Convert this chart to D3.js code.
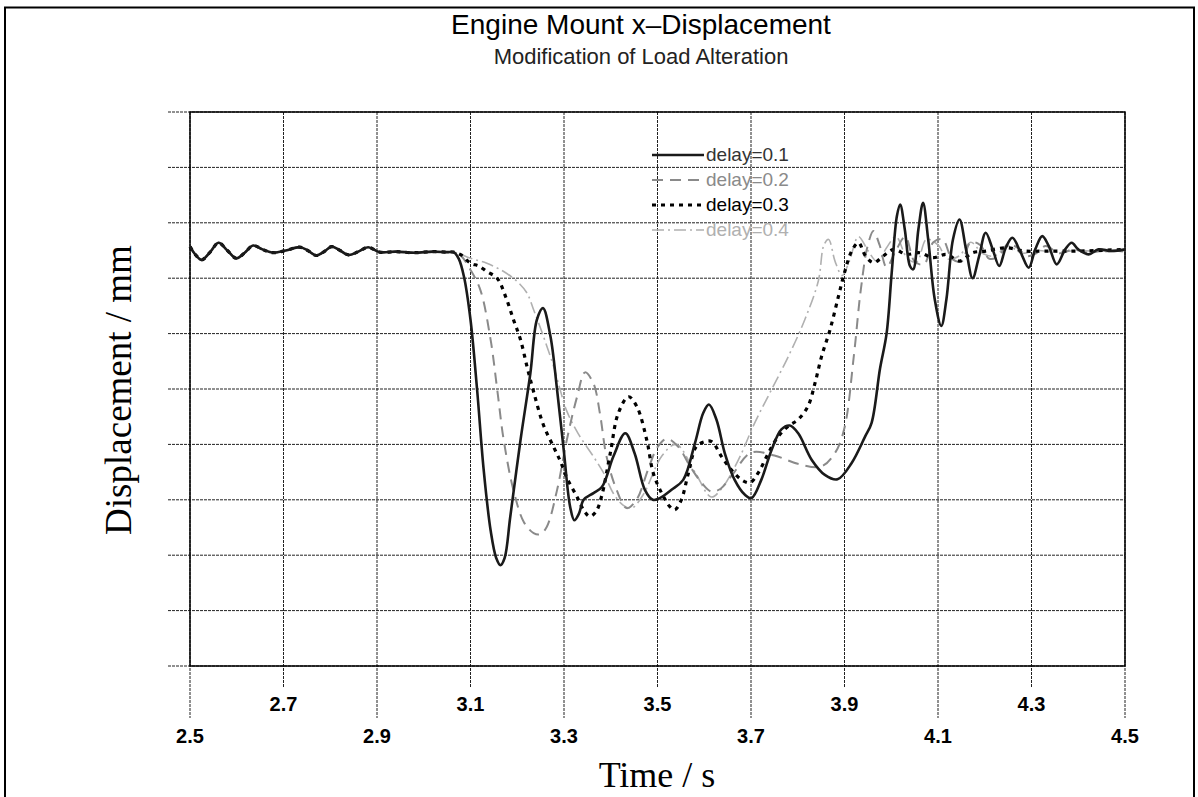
<!DOCTYPE html>
<html>
<head>
<meta charset="utf-8">
<script src="https://cdn.jsdelivr.net/npm/d3@7"></script>
<style>
  body { margin: 0; background: #fff; }
  text { font-family: "Liberation Sans", Arial, sans-serif; }
  .serif { font-family: "Liberation Serif", "Times New Roman", serif; }
</style>
</head>
<body>
<div id="chart"></div>
<script>
"use strict";
//time axis ticks, labels alternate between two rows
var xTicks = [2.5, 2.7, 2.9, 3.1, 3.3, 3.5, 3.7, 3.9, 4.1, 4.3, 4.5];
//displacement grid (no labels on the original, grid units)
var yGrid = [0, 1, 2, 3, 4, 5, 6, 7, 8, 9, 10];

var delays = ["delay=0.1", "delay=0.2", "delay=0.3", "delay=0.4"];

//steady part before the load alteration, same for all four runs
var preT = [2.5, 2.512, 2.525, 2.543, 2.561, 2.58, 2.599, 2.617, 2.635, 2.655, 2.678, 2.705, 2.735, 2.752, 2.77, 2.787, 2.803, 2.821, 2.839, 2.86, 2.881, 2.906, 2.94, 2.98, 3.02, 3.05];
var preV = [7.57, 7.42, 7.33, 7.47, 7.64, 7.5, 7.36, 7.46, 7.59, 7.52, 7.46, 7.5, 7.56, 7.5, 7.41, 7.48, 7.57, 7.5, 7.42, 7.48, 7.56, 7.47, 7.48, 7.46, 7.48, 7.47];

var t1 = [3.064, 3.075, 3.086, 3.1, 3.114, 3.128, 3.143, 3.155, 3.164, 3.173, 3.185, 3.207, 3.228, 3.242, 3.255, 3.271, 3.285, 3.3, 3.313, 3.322, 3.332, 3.342, 3.363, 3.381, 3.406, 3.431, 3.451, 3.473, 3.49, 3.505, 3.53, 3.555, 3.58, 3.598, 3.61, 3.626, 3.644, 3.665, 3.687, 3.701, 3.722, 3.744, 3.765, 3.783, 3.801, 3.83, 3.858, 3.885, 3.915, 3.944, 3.958, 3.976, 3.99, 4.001, 4.012, 4.019, 4.029, 4.04, 4.047, 4.058, 4.068, 4.079, 4.093, 4.107, 4.118, 4.132, 4.146, 4.16, 4.174, 4.188, 4.202, 4.217, 4.231, 4.245, 4.259, 4.277, 4.294, 4.308, 4.323, 4.337, 4.354, 4.372, 4.386, 4.4, 4.422, 4.443, 4.471, 4.5];
var v1 = [7.47, 7.35, 7.03, 6.25, 5.0, 3.56, 2.45, 1.95, 1.82, 1.95, 2.69, 4.08, 5.28, 6.25, 6.46, 5.95, 5.0, 3.85, 2.88, 2.63, 2.75, 3.0, 3.12, 3.23, 3.79, 4.2, 3.84, 3.18, 3.0, 3.03, 3.18, 3.36, 4.02, 4.57, 4.72, 4.45, 3.84, 3.36, 3.09, 3.03, 3.36, 3.9, 4.27, 4.34, 4.2, 3.72, 3.45, 3.37, 3.66, 4.14, 4.39, 5.37, 6.0, 7.1, 8.12, 8.33, 7.88, 7.22, 7.16, 7.88, 8.36, 7.7, 6.62, 6.14, 6.62, 7.7, 8.06, 7.52, 7.0, 7.4, 7.82, 7.52, 7.22, 7.55, 7.73, 7.46, 7.19, 7.52, 7.76, 7.58, 7.25, 7.52, 7.64, 7.52, 7.43, 7.52, 7.49, 7.52];

var t2 = [3.064, 3.08, 3.1, 3.121, 3.143, 3.157, 3.171, 3.192, 3.214, 3.235, 3.249, 3.263, 3.285, 3.306, 3.328, 3.345, 3.363, 3.377, 3.391, 3.413, 3.434, 3.455, 3.48, 3.5, 3.52, 3.545, 3.57, 3.595, 3.615, 3.635, 3.66, 3.7, 3.75, 3.8, 3.85, 3.88, 3.9, 3.92, 3.935, 3.95, 3.962, 3.975, 3.99, 4.01, 4.03, 4.05, 4.07, 4.09, 4.11, 4.13, 4.15, 4.17, 4.19, 4.21, 4.23, 4.25, 4.27, 4.29, 4.31, 4.33, 4.36, 4.39, 4.42, 4.46, 4.5];
var v2 = [7.47, 7.4, 7.15, 6.79, 5.89, 5.0, 4.08, 3.17, 2.6, 2.4, 2.38, 2.51, 3.17, 4.08, 4.86, 5.3, 5.1, 4.55, 3.78, 3.17, 2.85, 3.0, 3.55, 3.95, 4.1, 3.95, 3.6, 3.3, 3.15, 3.2, 3.45, 3.85, 3.8, 3.65, 3.6, 3.85, 4.3, 5.6, 6.8, 7.6, 7.85, 7.6, 7.2, 7.5, 7.75, 7.3, 7.25, 7.65, 7.7, 7.35, 7.3, 7.65, 7.6, 7.35, 7.4, 7.62, 7.55, 7.4, 7.45, 7.58, 7.45, 7.52, 7.46, 7.5, 7.48];

var t3 = [3.064, 3.08, 3.1, 3.118, 3.135, 3.157, 3.175, 3.192, 3.207, 3.221, 3.235, 3.256, 3.278, 3.292, 3.306, 3.328, 3.343, 3.355, 3.368, 3.38, 3.399, 3.416, 3.438, 3.456, 3.477, 3.491, 3.509, 3.526, 3.537, 3.551, 3.566, 3.583, 3.601, 3.616, 3.637, 3.658, 3.68, 3.698, 3.715, 3.737, 3.758, 3.78, 3.801, 3.822, 3.837, 3.851, 3.869, 3.887, 3.9, 3.916, 3.93, 3.945, 3.962, 3.983, 4.005, 4.033, 4.061, 4.089, 4.118, 4.146, 4.174, 4.202, 4.245, 4.287, 4.33, 4.4, 4.5];
var v3 = [7.47, 7.42, 7.27, 7.22, 7.12, 7.0, 6.67, 6.25, 5.89, 5.4, 4.95, 4.35, 3.95, 3.7, 3.4, 3.05, 2.8, 2.7, 2.78, 3.05, 3.84, 4.56, 4.86, 4.68, 4.08, 3.48, 3.12, 2.88, 2.82, 3.0, 3.48, 3.96, 4.05, 4.05, 3.78, 3.54, 3.36, 3.31, 3.48, 3.84, 4.14, 4.33, 4.45, 4.69, 5.11, 5.59, 6.07, 6.67, 7.1, 7.5, 7.64, 7.4, 7.28, 7.4, 7.52, 7.43, 7.46, 7.37, 7.43, 7.31, 7.46, 7.49, 7.55, 7.49, 7.49, 7.49, 7.52];

var t4 = [3.064, 3.1, 3.135, 3.171, 3.2, 3.221, 3.235, 3.256, 3.278, 3.292, 3.306, 3.33, 3.363, 3.385, 3.406, 3.427, 3.445, 3.47, 3.51, 3.54, 3.58, 3.615, 3.637, 3.673, 3.708, 3.744, 3.78, 3.815, 3.844, 3.856, 3.866, 3.88, 3.895, 3.91, 3.93, 3.95, 3.97, 3.99, 4.01, 4.035, 4.055, 4.075, 4.1, 4.12, 4.145, 4.17, 4.195, 4.22, 4.25, 4.28, 4.31, 4.35, 4.4, 4.45, 4.5];
var v4 = [7.47, 7.36, 7.27, 7.12, 6.94, 6.73, 6.43, 5.95, 5.4, 4.98, 4.6, 4.2, 3.78, 3.48, 3.11, 2.9, 2.85, 3.1, 3.8, 4.0, 3.5, 3.05, 3.2, 3.72, 4.39, 4.99, 5.59, 6.25, 6.95, 7.6, 7.7, 7.3, 7.05, 7.3, 7.75, 7.5, 7.3, 7.55, 7.75, 7.35, 7.3, 7.7, 7.6, 7.35, 7.4, 7.65, 7.45, 7.4, 7.58, 7.45, 7.5, 7.47, 7.5, 7.48, 7.49];

var w = 1198, h = 797;
var pLeft = 190, pRight = 1125, pTop = 112, pBottom = 666;

var x = d3.scaleLinear().domain([2.5, 4.5]).range([pLeft, pRight]);
var y = d3.scaleLinear().domain([0, 10]).range([pBottom, pTop]);

var svg = d3
  .select("#chart")
  .append("svg")
  .attr("width", w)
  .attr("height", h);

//outer frame, bottom edge runs off the page
svg
  .append("rect")
  .attr("x", 5)
  .attr("y", 7.5)
  .attr("width", 1189)
  .attr("height", 800)
  .attr("fill", "none")
  .attr("stroke", "#000")
  .attr("stroke-width", 2);

svg
  .append("text")
  .attr("x", 641)
  .attr("y", 34)
  .attr("text-anchor", "middle")
  .style("font-size", "28px")
  .text("Engine Mount x\u2013Displacement");

svg
  .append("text")
  .attr("x", 641)
  .attr("y", 64)
  .attr("text-anchor", "middle")
  .style("font-size", "22px")
  .attr("fill", "#222")
  .text("Modification of Load Alteration");

//horizontal grid, sticking out on the left like ticks
svg
  .append("g")
  .selectAll("line")
  .data(yGrid)
  .enter()
  .append("line")
  .attr("x1", pLeft - 22)
  .attr("x2", pRight)
  .attr("y1", function(d) { return y(d); })
  .attr("y2", function(d) { return y(d); })
  .attr("stroke", "#222")
  .attr("stroke-width", 1)
  .attr("stroke-dasharray", "3,1");

//vertical grid, long ticks for the lower label row
var xg = svg.append("g");
xg.selectAll("line")
  .data(xTicks)
  .enter()
  .append("line")
  .attr("x1", function(d) { return x(d); })
  .attr("x2", function(d) { return x(d); })
  .attr("y1", pTop)
  .attr("y2", function(d, i) { return pBottom + (i % 2 ? 21 : 52); })
  .attr("stroke", "#222")
  .attr("stroke-width", 1)
  .attr("stroke-dasharray", "3,1");

xg.selectAll("text")
  .data(xTicks)
  .enter()
  .append("text")
  .attr("x", function(d) { return x(d); })
  .attr("y", function(d, i) { return pBottom + (i % 2 ? 45 : 77); })
  .attr("text-anchor", "middle")
  .style("font-size", "20px")
  .style("font-weight", "bold")
  .text(function(d) { return d3.format(".1f")(d); });

//plot frame
svg
  .append("rect")
  .attr("x", pLeft)
  .attr("y", pTop)
  .attr("width", pRight - pLeft)
  .attr("height", pBottom - pTop)
  .attr("fill", "none")
  .attr("stroke", "#000")
  .attr("stroke-width", 1.5);

svg
  .append("text")
  .attr("class", "serif")
  .attr("x", 657)
  .attr("y", 787)
  .attr("text-anchor", "middle")
  .style("font-size", "36px")
  .text("Time / s");

svg
  .append("text")
  .attr("class", "serif")
  .attr("transform", "translate(131,390) rotate(-90)")
  .attr("text-anchor", "middle")
  .style("font-size", "37px")
  .text("Displacement / mm");

function pts(ts, vs) {
  var a = preT.map(function(t, i) { return [t, preV[i]]; });
  return a.concat(ts.map(function(t, i) { return [t, vs[i]]; }));
}

var series = [
  { name: delays[0], data: pts(t1, v1), color: "#1a1a1a", width: 2.6, dash: null, text: "#333" },
  { name: delays[1], data: pts(t2, v2), color: "#8a8a8a", width: 2, dash: "11,7", text: "#8a8a8a" },
  { name: delays[2], data: pts(t3, v3), color: "#000", width: 3.2, dash: "4,5", text: "#000" },
  { name: delays[3], data: pts(t4, v4), color: "#b0b0b0", width: 1.6, dash: "12,4,2,4", text: "#b0b0b0" }
];

var line = d3
  .line()
  .x(function(d) { return x(d[0]); })
  .y(function(d) { return y(d[1]); })
  .curve(d3.curveCatmullRom.alpha(0.5));

//draw lightest first so the solid run stays on top
var order = [3, 1, 2, 0];
svg
  .append("g")
  .selectAll("path")
  .data(order.map(function(i) { return series[i]; }))
  .enter()
  .append("path")
  .attr("d", function(d) { return line(d.data); })
  .attr("fill", "none")
  .attr("stroke", function(d) { return d.color; })
  .attr("stroke-width", function(d) { return d.width; })
  .attr("stroke-dasharray", function(d) { return d.dash; })
  .attr("stroke-linejoin", "round");

//legend
var lg = svg
  .append("g")
  .selectAll("g")
  .data(series)
  .enter()
  .append("g")
  .attr("transform", function(d, i) { return "translate(652," + (155 + i * 25) + ")"; });

lg.append("line")
  .attr("x1", 0)
  .attr("x2", 52)
  .attr("stroke", function(d) { return d.color; })
  .attr("stroke-width", function(d) { return d.width; })
  .attr("stroke-dasharray", function(d) { return d.dash; });

lg.append("text")
  .attr("x", 54)
  .attr("y", 6)
  .style("font-size", "19px")
  .attr("fill", function(d) { return d.text; })
  .text(function(d) { return d.name; });
</script>
</body>
</html>
